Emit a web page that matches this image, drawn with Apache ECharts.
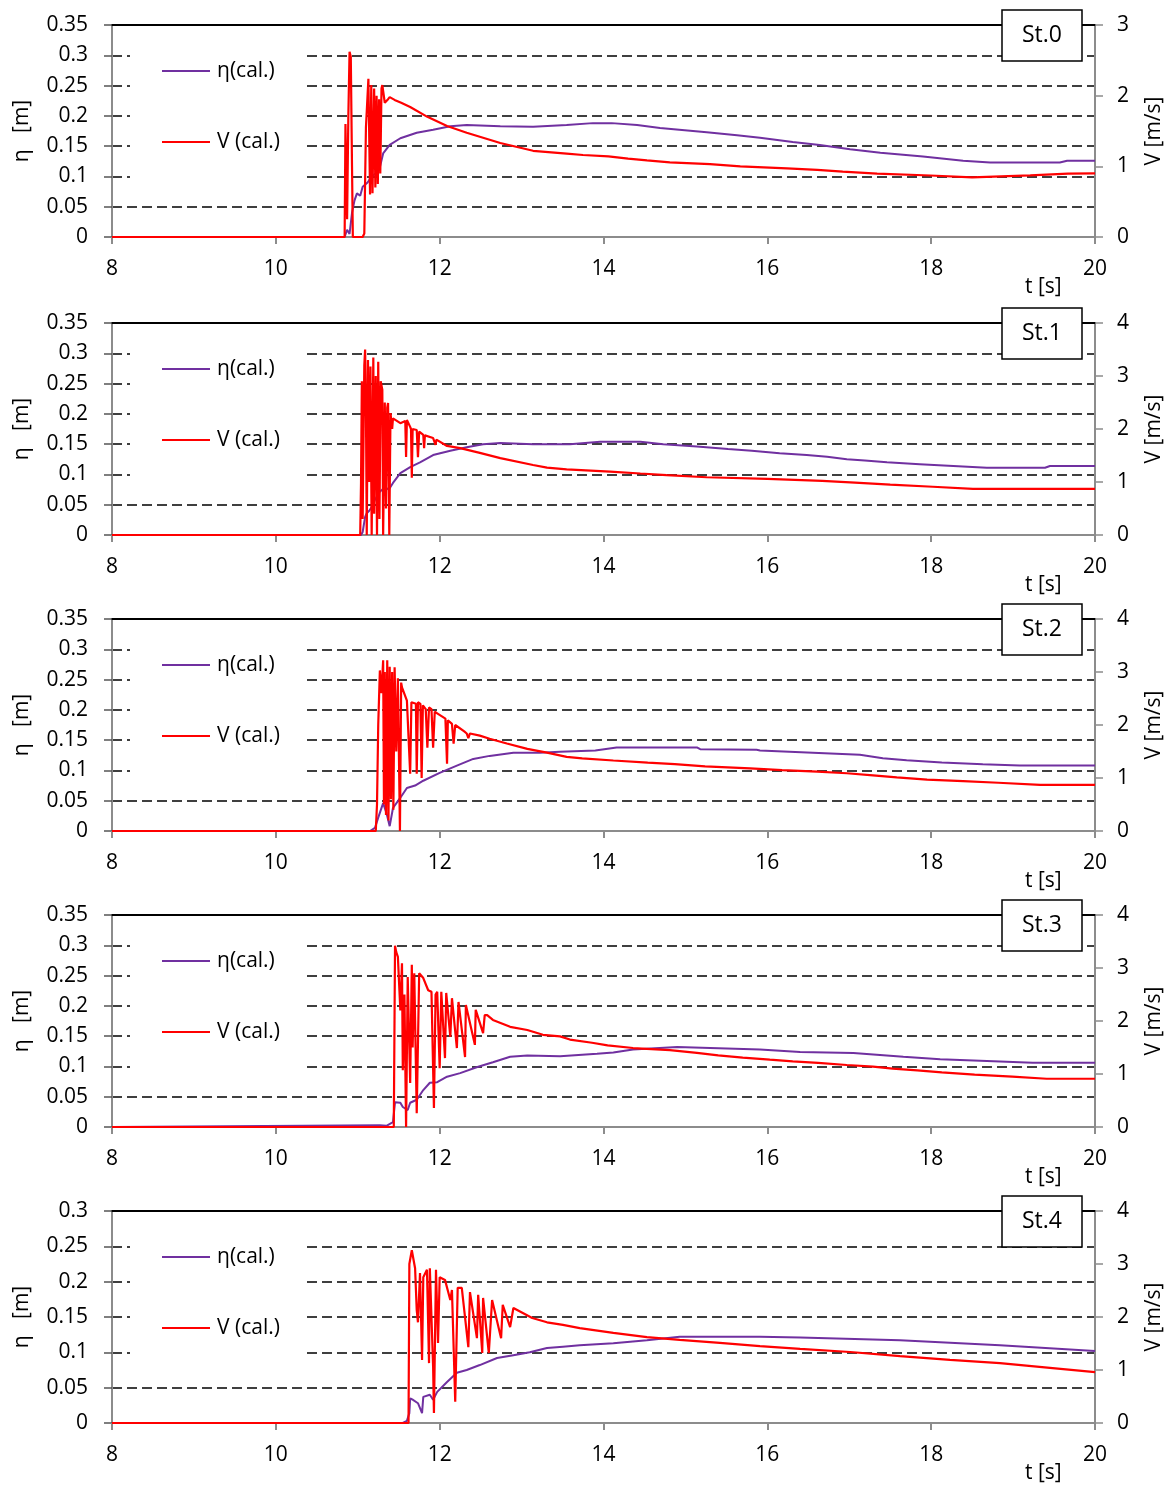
<!DOCTYPE html>
<html><head><meta charset="utf-8">
<script src="https://cdn.jsdelivr.net/npm/echarts@6/dist/echarts.min.js"></script>
<style>html,body{margin:0;padding:0;background:#fff}#c{width:1174px;height:1488px}</style>
</head><body><div id="c"></div>
<script>
// ---------------- DATA ----------------
const STATIONS = ['St.0', 'St.1', 'St.2', 'St.3', 'St.4'];
const ETA_MAX = [0.35, 0.35, 0.35, 0.35, 0.3];
const V_MAX = [3, 4, 4, 4, 4];
const T_MIN = 8, T_MAX = 20, T_STEP = 2;
const ETA_NAME = 'η(cal.)';
const V_NAME = 'V (cal.)';

// St.0
const ETA_ST0 = [[8,0],[10.84,0],[10.87,0.012],[10.9,0.005],[10.93,0.04],[10.96,0.06],[10.99,0.072],[11.03,0.068],[11.06,0.083],[11.12,0.09],[11.17,0.10],[11.22,0.105],[11.27,0.115],[11.31,0.138],[11.39,0.152],[11.52,0.163],[11.72,0.172],[11.92,0.177],[12.13,0.183],[12.33,0.185],[12.74,0.183],[13.14,0.182],[13.55,0.185],[13.87,0.188],[14.1,0.188],[14.41,0.185],[14.69,0.18],[15.26,0.173],[15.63,0.168],[15.91,0.164],[16.31,0.157],[16.64,0.152],[17.01,0.145],[17.38,0.139],[17.9,0.133],[18.39,0.126],[18.72,0.123],[19.57,0.123],[19.66,0.126],[20,0.126]];
const V_ST0 = [[8,0],[10.84,0],[10.85,1.6],[10.87,0.25],[10.885,1.7],[10.9,2.62],[10.915,2.55],[10.93,1.0],[10.94,0],[11.06,0],[11.08,0.05],[11.1,1.55],[11.13,2.24],[11.15,0.6],[11.165,2.15],[11.18,0.62],[11.2,2.1],[11.215,0.7],[11.23,2.0],[11.245,0.75],[11.26,1.95],[11.275,0.9],[11.29,2.1],[11.3,2.15],[11.33,1.9],[11.37,1.95],[11.39,1.98],[11.45,1.94],[11.53,1.9],[11.64,1.84],[11.85,1.70],[12.09,1.57],[12.33,1.476],[12.74,1.33],[13.14,1.22],[13.55,1.18],[13.75,1.16],[14.06,1.14],[14.3,1.11],[14.53,1.085],[14.81,1.057],[15.3,1.03],[15.67,1.0],[16.24,0.97],[16.61,0.95],[16.92,0.925],[17.34,0.896],[17.99,0.87],[18.5,0.845],[19.21,0.873],[19.67,0.896],[20,0.9]];

// St.1
const ETA_ST1 = [[8,0],[11.04,0],[11.06,0.005],[11.09,0.03],[11.11,0.036],[11.14,0.04],[11.17,0.046],[11.21,0.058],[11.26,0.07],[11.33,0.079],[11.38,0.075],[11.43,0.086],[11.52,0.102],[11.64,0.112],[11.76,0.12],[11.92,0.132],[12.13,0.139],[12.33,0.145],[12.53,0.15],[12.74,0.152],[13.14,0.15],[13.59,0.15],[13.96,0.154],[14.45,0.154],[14.73,0.15],[15.14,0.146],[15.52,0.142],[15.81,0.139],[16.15,0.135],[16.48,0.132],[16.73,0.129],[16.97,0.125],[17.19,0.123],[17.46,0.12],[17.86,0.117],[18.27,0.114],[18.68,0.111],[19.39,0.111],[19.45,0.114],[20,0.114]];
const V_ST1 = [[8,0],[11.03,0],[11.04,1.0],[11.05,2.9],[11.06,0.3],[11.08,3.2],[11.09,3.5],[11.1,2.4],[11.11,0],[11.125,3.3],[11.14,1.0],[11.155,3.18],[11.17,0],[11.19,3.35],[11.2,0.4],[11.22,3.0],[11.235,0],[11.25,3.27],[11.265,0.3],[11.28,2.9],[11.3,2.74],[11.31,0],[11.33,2.5],[11.345,0.5],[11.36,2.4],[11.37,2.49],[11.385,0],[11.4,2.3],[11.42,2.0],[11.43,2.2],[11.52,2.11],[11.58,2.15],[11.59,1.47],[11.6,2.17],[11.64,2.04],[11.65,2.0],[11.66,1.08],[11.67,2.0],[11.72,1.98],[11.735,1.47],[11.75,1.95],[11.8,1.89],[11.81,1.64],[11.82,1.88],[11.92,1.83],[11.95,1.7],[11.96,1.8],[12.09,1.68],[12.25,1.64],[12.49,1.55],[12.74,1.45],[13.14,1.32],[13.31,1.27],[13.55,1.24],[14.08,1.195],[14.45,1.16],[14.77,1.13],[15.26,1.09],[16.0,1.06],[16.67,1.02],[17.07,0.99],[17.5,0.95],[18.02,0.91],[18.51,0.87],[20,0.87]];

// St.2
const ETA_ST2 = [[8,0],[11.15,0],[11.21,0.005],[11.25,0.022],[11.31,0.046],[11.35,0.03],[11.39,0.008],[11.43,0.038],[11.52,0.055],[11.6,0.071],[11.7,0.075],[11.8,0.083],[12.0,0.096],[12.21,0.108],[12.41,0.119],[12.61,0.124],[12.9,0.129],[13.22,0.129],[13.47,0.131],[13.9,0.133],[14.16,0.138],[15.14,0.138],[15.18,0.135],[15.87,0.134],[15.91,0.133],[17.13,0.126],[17.41,0.12],[17.7,0.117],[18.13,0.113],[18.63,0.11],[19.08,0.108],[20,0.108]];
const V_ST2 = [[8,0],[11.22,0],[11.235,0.5],[11.25,2.0],[11.27,3.03],[11.29,2.6],[11.31,3.22],[11.32,0.5],[11.33,3.0],[11.345,0.3],[11.36,3.22],[11.375,0.2],[11.39,3.1],[11.405,0.6],[11.42,3.0],[11.435,0.4],[11.45,3.09],[11.47,1.5],[11.49,2.88],[11.515,0],[11.53,2.8],[11.54,2.71],[11.6,2.46],[11.62,2.45],[11.64,1.08],[11.655,2.43],[11.67,2.41],[11.71,2.4],[11.72,1.08],[11.735,2.43],[11.765,2.4],[11.78,1.0],[11.795,2.37],[11.83,2.3],[11.85,1.57],[11.87,2.33],[11.9,2.3],[11.92,1.57],[11.94,2.25],[11.97,2.22],[12.07,2.12],[12.09,1.27],[12.1,2.09],[12.15,2.02],[12.17,1.65],[12.19,2.0],[12.21,1.99],[12.3,1.88],[12.33,1.84],[12.35,1.75],[12.37,1.84],[12.49,1.80],[12.61,1.74],[12.82,1.65],[13.07,1.55],[13.31,1.48],[13.55,1.40],[13.74,1.37],[14.12,1.33],[14.54,1.29],[14.87,1.26],[15.24,1.22],[15.79,1.18],[16.18,1.15],[16.61,1.12],[16.97,1.09],[17.29,1.05],[17.58,1.01],[17.95,0.97],[18.39,0.94],[18.82,0.91],[19.33,0.87],[20,0.87]];

// St.3
const ETA_ST3 = [[8,0],[11.27,0.003],[11.35,0.002],[11.43,0.008],[11.455,0.041],[11.52,0.04],[11.55,0.033],[11.61,0.028],[11.64,0.04],[11.72,0.045],[11.8,0.061],[11.88,0.073],[11.97,0.074],[12.09,0.083],[12.25,0.089],[12.46,0.099],[12.65,0.107],[12.86,0.116],[13.07,0.118],[13.47,0.117],[13.92,0.121],[14.12,0.123],[14.36,0.128],[14.9,0.132],[15.91,0.128],[16.4,0.124],[17.05,0.122],[17.66,0.116],[18.11,0.112],[18.68,0.109],[19.24,0.106],[20,0.106]];
const V_ST3 = [[8,0],[11.44,0],[11.455,3.42],[11.47,3.3],[11.49,3.21],[11.52,2.2],[11.54,3.09],[11.55,1.07],[11.57,2.5],[11.59,0],[11.61,2.83],[11.64,0.83],[11.66,3.06],[11.67,1.5],[11.69,2.9],[11.72,0.26],[11.75,2.9],[11.8,2.81],[11.86,2.58],[11.9,2.55],[11.93,0.36],[11.95,2.5],[11.97,2.55],[12.0,1.11],[12.02,2.55],[12.04,2.55],[12.065,1.3],[12.08,2.53],[12.09,2.53],[12.13,1.7],[12.15,2.43],[12.16,2.43],[12.21,1.49],[12.23,2.36],[12.25,2.36],[12.31,1.32],[12.32,2.3],[12.33,2.3],[12.43,1.55],[12.44,2.21],[12.46,2.21],[12.53,1.77],[12.55,2.11],[12.58,2.11],[12.65,2.02],[12.86,1.89],[13.07,1.83],[13.26,1.74],[13.47,1.71],[13.59,1.65],[13.86,1.59],[14.05,1.54],[14.36,1.49],[14.81,1.45],[15.14,1.40],[15.4,1.35],[15.7,1.31],[16.03,1.27],[16.31,1.24],[16.62,1.21],[16.97,1.17],[17.29,1.14],[17.53,1.10],[17.83,1.07],[18.13,1.03],[18.53,0.99],[18.99,0.95],[19.41,0.91],[20,0.91]];

// St.4
const ETA_ST4 = [[8,0],[11.55,0],[11.6,0.003],[11.63,0.014],[11.64,0.035],[11.67,0.033],[11.735,0.028],[11.785,0.014],[11.8,0.037],[11.88,0.04],[11.92,0.033],[11.97,0.044],[12.09,0.058],[12.21,0.071],[12.33,0.075],[12.49,0.082],[12.7,0.092],[12.9,0.096],[13.1,0.1],[13.31,0.106],[13.505,0.108],[13.71,0.11],[14.12,0.113],[14.53,0.117],[14.93,0.122],[15.91,0.122],[16.4,0.121],[17.62,0.117],[18.84,0.11],[20,0.102]];
const V_ST4 = [[8,0],[11.62,0],[11.63,3.0],[11.66,3.26],[11.7,2.92],[11.72,2.13],[11.735,1.9],[11.76,2.83],[11.785,1.19],[11.8,2.75],[11.845,2.89],[11.87,1.13],[11.88,2.92],[11.92,1.06],[11.93,0.19],[11.955,2.89],[11.98,1.51],[12.0,2.75],[12.065,2.7],[12.13,2.32],[12.15,2.51],[12.19,0.4],[12.22,2.55],[12.27,2.55],[12.35,1.43],[12.37,2.47],[12.455,1.6],[12.47,2.42],[12.52,1.32],[12.53,2.36],[12.6,1.32],[12.64,2.32],[12.75,1.6],[12.77,2.23],[12.86,1.81],[12.9,2.17],[13.13,1.98],[13.31,1.9],[13.505,1.85],[13.71,1.79],[14.12,1.70],[14.53,1.62],[14.93,1.57],[15.42,1.51],[15.91,1.45],[16.4,1.40],[17.01,1.34],[17.62,1.26],[18.23,1.19],[18.84,1.13],[19.45,1.04],[20,0.96]];

const ETA = [ETA_ST0, ETA_ST1, ETA_ST2, ETA_ST3, ETA_ST4];
const VEL = [V_ST0, V_ST1, V_ST2, V_ST3, V_ST4];

// ---------------- LAYOUT / STYLE ----------------
const FONT = '"Open Sans", "Noto Sans", "DejaVu Sans", sans-serif';
const FS = 21;
const TOPS = [25, 323, 619, 915, 1211];
const PH = 212;
const AX = '#8c8c8c';
const PURPLE = '#7030A0', RED = '#FF0000';

const grid = [], xAxis = [], yAxis = [], series = [], legend = [], title = [], graphic = [];
STATIONS.forEach((st, i) => {
  grid.push({ left: 112, right: 79, top: TOPS[i], height: PH, containLabel: false });
  xAxis.push({
    gridIndex: i, type: 'value', min: T_MIN, max: T_MAX, interval: T_STEP, position: 'bottom',
    axisLine: { onZero: false, lineStyle: { color: AX, width: 2 } },
    axisTick: { show: true, length: 7, lineStyle: { color: AX, width: 2 } },
    axisLabel: { color: '#000', fontSize: FS, fontFamily: FONT, margin: 22 },
    splitLine: { show: false }
  });
  xAxis.push({
    gridIndex: i, type: 'value', min: T_MIN, max: T_MAX, position: 'top',
    axisLine: { onZero: false, lineStyle: { color: '#000', width: 2 } },
    axisTick: { show: false }, axisLabel: { show: false }, splitLine: { show: false }
  });
  yAxis.push({
    gridIndex: i, type: 'value', min: 0, max: ETA_MAX[i], interval: 0.05, position: 'left',
    name: 'η   [m]', nameLocation: 'middle', nameGap: 79, nameRotate: 90,
    nameTextStyle: { color: '#000', fontSize: FS, fontFamily: FONT },
    axisLine: { show: true, onZero: false, lineStyle: { color: AX, width: 2 } },
    axisTick: { show: true, length: 8, lineStyle: { color: '#555', width: 1.5 } },
    axisLabel: { color: '#000', fontSize: FS, fontFamily: FONT, margin: 24 },
    splitLine: { show: true, lineStyle: { color: '#000', width: 1.5, type: [10, 5] } }
  });
  yAxis.push({
    gridIndex: i, type: 'value', min: 0, max: V_MAX[i], interval: 1, position: 'right',
    name: 'V [m/s]', nameLocation: 'middle', nameGap: 49, nameRotate: 90,
    nameTextStyle: { color: '#000', fontSize: FS, fontFamily: FONT },
    axisLine: { show: true, onZero: false, lineStyle: { color: AX, width: 2 } },
    axisTick: { show: true, length: 8, lineStyle: { color: AX, width: 1.5 } },
    axisLabel: { color: '#000', fontSize: FS, fontFamily: FONT, margin: 22 },
    splitLine: { show: false }
  });
  series.push({
    type: 'line', name: ETA_NAME, xAxisIndex: 2 * i, yAxisIndex: 2 * i, data: ETA[i],
    showSymbol: false, symbol: 'none', lineStyle: { color: PURPLE, width: 2 }, itemStyle: { color: PURPLE },
    z: 3
  });
  series.push({
    type: 'line', name: V_NAME, xAxisIndex: 2 * i, yAxisIndex: 2 * i + 1, data: VEL[i],
    showSymbol: false, symbol: 'none', lineStyle: { color: RED, width: 2.2 }, itemStyle: { color: RED },
    z: 4
  });
  legend.push({
    data: [ETA_NAME, V_NAME], orient: 'vertical', left: 130, top: TOPS[i] + 20,
    padding: [14, 26, 36, 32], itemGap: 47, itemWidth: 48, itemHeight: 2, icon: 'rect',
    backgroundColor: '#fff', selectedMode: false,
    textStyle: { color: '#000', fontSize: FS, fontFamily: FONT, lineHeight: 24, padding: [0, 0, 0, 2] }
  });
  title.push({
    text: st, left: 1002, top: TOPS[i] - 15, padding: [12, 20],
    borderColor: '#000', borderWidth: 1.5, backgroundColor: '#fff',
    textStyle: { color: '#000', fontSize: 23, fontWeight: 'normal', fontFamily: FONT, lineHeight: 27 }
  });
  graphic.push({
    type: 'text', left: 1025, top: TOPS[i] + PH + 40,
    style: { text: 't [s]', fill: '#000', font: FS + 'px ' + FONT }
  });
});

const chart = echarts.init(document.getElementById('c'), null, { renderer: 'canvas' });
chart.setOption({
  animation: false, backgroundColor: '#fff',
  grid, xAxis, yAxis, series, legend, title, graphic
});
</script>
</body></html>
